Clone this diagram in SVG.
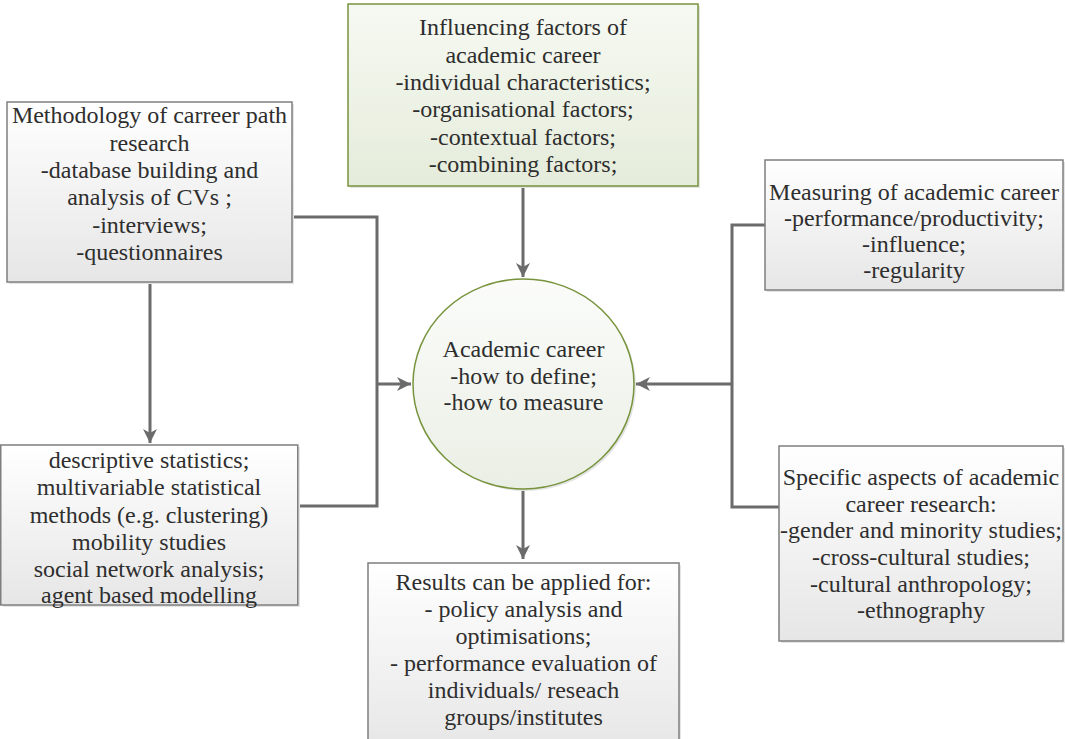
<svg xmlns="http://www.w3.org/2000/svg" width="1065" height="739" viewBox="0 0 1065 739">
<defs>
<linearGradient id="gg" x1="0" y1="0" x2="0" y2="1"><stop offset="0" stop-color="#ffffff"/><stop offset="1" stop-color="#e6e6e6"/></linearGradient>
<linearGradient id="gr" x1="0" y1="0" x2="0" y2="1"><stop offset="0" stop-color="#f6f9f2"/><stop offset="1" stop-color="#e5ecdb"/></linearGradient>
<linearGradient id="gc" x1="0" y1="0" x2="0" y2="1"><stop offset="0" stop-color="#fbfcfa"/><stop offset="1" stop-color="#eaefe5"/></linearGradient>
<marker id="ar" viewBox="-15 -8 16 16" refX="0" refY="0" markerWidth="16" markerHeight="16" markerUnits="userSpaceOnUse" orient="auto">
<path d="M0,0 L-14,-7 L-10,0 L-14,7 Z" fill="#6b6b6b"/>
</marker>
</defs>

<g id="connectors" fill="none" stroke="#6b6b6b" stroke-width="3">
<path d="M523,186 V277" marker-end="url(#ar)"/>
<path d="M150,282 V443" marker-end="url(#ar)"/>
<path d="M292,217 H377 V506 H298"/>
<path d="M377,384 H411" marker-end="url(#ar)"/>
<path d="M765,225 H732 V507 H779"/>
<path d="M732,384 H636" marker-end="url(#ar)"/>
<path d="M523,489 V559" marker-end="url(#ar)"/>
</g>

<g id="methodology">
<rect x="9" y="104" width="285" height="180" fill="#e4e4e4"/>
<rect x="7" y="102" width="285" height="180" fill="url(#gg)" stroke="#7f7f7f" stroke-width="1.5"/>
<text font-family="Liberation Serif" font-size="24" fill="#2e2e2e" text-anchor="middle" x="149.5" y="123">Methodology of carreer path</text>
<text font-family="Liberation Serif" font-size="24" fill="#2e2e2e" text-anchor="middle" x="149.5" y="150.5">research</text>
<text font-family="Liberation Serif" font-size="24" fill="#2e2e2e" text-anchor="middle" x="149.5" y="178">-database building and</text>
<text font-family="Liberation Serif" font-size="24" fill="#2e2e2e" text-anchor="middle" x="149.5" y="205">analysis of CVs ;</text>
<text font-family="Liberation Serif" font-size="24" fill="#2e2e2e" text-anchor="middle" x="149.5" y="232.5">-interviews;</text>
<text font-family="Liberation Serif" font-size="24" fill="#2e2e2e" text-anchor="middle" x="149.5" y="260">-questionnaires</text>
</g>

<g id="influencing">
<rect x="350" y="6" width="350" height="182" fill="#e4e4e4"/>
<rect x="348" y="4" width="350" height="182" fill="url(#gr)" stroke="#77933c" stroke-width="1.5"/>
<text font-family="Liberation Serif" font-size="24" fill="#2e2e2e" text-anchor="middle" x="523" y="35">Influencing factors of</text>
<text font-family="Liberation Serif" font-size="24" fill="#2e2e2e" text-anchor="middle" x="523" y="62.5">academic career</text>
<text font-family="Liberation Serif" font-size="24" fill="#2e2e2e" text-anchor="middle" x="523" y="90">-individual characteristics;</text>
<text font-family="Liberation Serif" font-size="24" fill="#2e2e2e" text-anchor="middle" x="523" y="117">-organisational factors;</text>
<text font-family="Liberation Serif" font-size="24" fill="#2e2e2e" text-anchor="middle" x="523" y="144.5">-contextual factors;</text>
<text font-family="Liberation Serif" font-size="24" fill="#2e2e2e" text-anchor="middle" x="523" y="172">-combining factors;</text>
</g>

<g id="measuring">
<rect x="767" y="162" width="298" height="130" fill="#e4e4e4"/>
<rect x="765" y="160" width="298" height="130" fill="url(#gg)" stroke="#7f7f7f" stroke-width="1.5"/>
<text font-family="Liberation Serif" font-size="24" fill="#2e2e2e" text-anchor="middle" x="914" y="200">Measuring of academic career</text>
<text font-family="Liberation Serif" font-size="24" fill="#2e2e2e" text-anchor="middle" x="914" y="226">-performance/productivity;</text>
<text font-family="Liberation Serif" font-size="24" fill="#2e2e2e" text-anchor="middle" x="914" y="252">-influence;</text>
<text font-family="Liberation Serif" font-size="24" fill="#2e2e2e" text-anchor="middle" x="914" y="278">-regularity</text>
</g>

<g id="academic-career">
<ellipse cx="525.5" cy="386" rx="110.5" ry="105" fill="#e4e4e4"/>
<ellipse cx="523.5" cy="384" rx="110.5" ry="105" fill="url(#gc)" stroke="#77933c" stroke-width="1.5"/>
<text font-family="Liberation Serif" font-size="24" fill="#2e2e2e" text-anchor="middle" x="523.5" y="357">Academic career</text>
<text font-family="Liberation Serif" font-size="24" fill="#2e2e2e" text-anchor="middle" x="523.5" y="383.5">-how to define;</text>
<text font-family="Liberation Serif" font-size="24" fill="#2e2e2e" text-anchor="middle" x="523.5" y="410">-how to measure</text>
</g>

<g id="statistics">
<rect x="3" y="447" width="297" height="160" fill="#e4e4e4"/>
<rect x="0.75" y="445" width="297" height="160" fill="url(#gg)" stroke="#7f7f7f" stroke-width="1.5"/>
<text font-family="Liberation Serif" font-size="24" fill="#2e2e2e" text-anchor="middle" x="149" y="468">descriptive statistics;</text>
<text font-family="Liberation Serif" font-size="24" fill="#2e2e2e" text-anchor="middle" x="149" y="495">multivariable statistical</text>
<text font-family="Liberation Serif" font-size="24" fill="#2e2e2e" text-anchor="middle" x="149" y="523">methods (e.g. clustering)</text>
<text font-family="Liberation Serif" font-size="24" fill="#2e2e2e" text-anchor="middle" x="149" y="550">mobility studies</text>
<text font-family="Liberation Serif" font-size="24" fill="#2e2e2e" text-anchor="middle" x="149" y="577">social network analysis;</text>
<text font-family="Liberation Serif" font-size="24" fill="#2e2e2e" text-anchor="middle" x="149" y="603">agent based modelling</text>
</g>

<g id="specific">
<rect x="781" y="448" width="284" height="195" fill="#e4e4e4"/>
<rect x="779" y="446" width="284" height="195" fill="url(#gg)" stroke="#7f7f7f" stroke-width="1.5"/>
<text font-family="Liberation Serif" font-size="24" fill="#2e2e2e" text-anchor="middle" x="921" y="485">Specific aspects of academic</text>
<text font-family="Liberation Serif" font-size="24" fill="#2e2e2e" text-anchor="middle" x="921" y="511.5">career research:</text>
<text font-family="Liberation Serif" font-size="24" fill="#2e2e2e" text-anchor="middle" x="921" y="538">-gender and minority studies;</text>
<text font-family="Liberation Serif" font-size="24" fill="#2e2e2e" text-anchor="middle" x="921" y="565">-cross-cultural studies;</text>
<text font-family="Liberation Serif" font-size="24" fill="#2e2e2e" text-anchor="middle" x="921" y="591.5">-cultural anthropology;</text>
<text font-family="Liberation Serif" font-size="24" fill="#2e2e2e" text-anchor="middle" x="921" y="618">-ethnography</text>
</g>

<g id="results">
<rect x="370" y="565" width="311" height="190" fill="#e4e4e4"/>
<rect x="368" y="563" width="311" height="190" fill="url(#gg)" stroke="#7f7f7f" stroke-width="1.5"/>
<text font-family="Liberation Serif" font-size="24" fill="#2e2e2e" text-anchor="middle" x="523.5" y="590">Results can be applied for:</text>
<text font-family="Liberation Serif" font-size="24" fill="#2e2e2e" text-anchor="middle" x="523.5" y="617">- policy analysis and</text>
<text font-family="Liberation Serif" font-size="24" fill="#2e2e2e" text-anchor="middle" x="523.5" y="644">optimisations;</text>
<text font-family="Liberation Serif" font-size="24" fill="#2e2e2e" text-anchor="middle" x="523.5" y="671">- performance evaluation of</text>
<text font-family="Liberation Serif" font-size="24" fill="#2e2e2e" text-anchor="middle" x="523.5" y="698">individuals/ reseach</text>
<text font-family="Liberation Serif" font-size="24" fill="#2e2e2e" text-anchor="middle" x="523.5" y="725">groups/institutes</text>
</g>
</svg>
